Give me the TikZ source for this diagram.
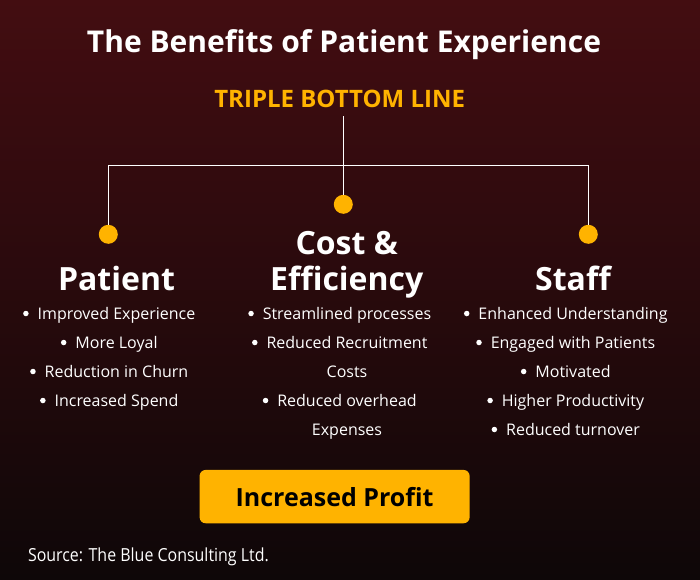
\documentclass[tikz,border=0pt]{standalone}
\usepackage{fontspec}
\setmainfont{Open Sans}
\newfontfamily\condfont[FakeStretch=0.886]{Open Sans}
\definecolor{bgtop}{HTML}{430D11}
\definecolor{bgbot}{HTML}{0E0708}
\definecolor{gold}{HTML}{FFB300}
\begin{document}
\begin{tikzpicture}[x=1pt,y=-1pt,
  every node/.style={inner sep=0pt, outer sep=0pt},
  heading/.style={text=white, font=\fontsize{32}{36}\selectfont\bfseries, anchor=south, text depth=0pt, align=center},
  item/.style={text=white, font=\fontsize{16}{20}\selectfont, text height=11pt, text depth=0pt, anchor=center},
  bul/.style={item, label={[fill=white, circle, inner sep=0pt, minimum size=5.5pt, label distance=9pt]left:{}}},
  dot/.style={circle, fill=gold, minimum size=19pt},
  wire/.style={white, line width=1pt}]
\shade[top color=bgtop, bottom color=bgbot] (0,0) rectangle (700,579);
\useasboundingbox (0,0) rectangle (700,579);

\node[text=white, font=\fontsize{30}{36}\selectfont\bfseries, anchor=base] (title) at (344,52.3) {The Benefits of Patient Experience};
\node[text=gold, font=\fontsize{24}{28}\selectfont\bfseries, anchor=base] (tbl) at (339.7,107.3) {TRIPLE BOTTOM LINE};

\node[dot] (d1) at (108.3,234.3) {};
\node[dot] (d2) at (343.3,204.3) {};
\node[dot] (d3) at (588.3,234.3) {};
\coordinate (stem) at (343.3,116);
\coordinate (jl) at (108.3,165);
\coordinate (jr) at (588.3,165);
\draw[wire] (stem) -- (d2);
\draw[wire] (d1) -- (jl) -- (jr) -- (d3);

\node[heading] (hp) at (116.5,290) {Patient};
\node[heading] (hc) at (346.7,290.7) {Cost \&\\Efficiency};
\node[heading] (hs) at (573,290) {Staff};

\node[bul] (p1) at (116.5,313.5) {Improved Experience};
\node[bul] (p2) at (116.5,342.5) {More Loyal};
\node[bul] (p3) at (116.5,371.5) {Reduction in Churn};
\node[bul] (p4) at (116.5,400.5) {Increased Spend};

\node[bul] (c1) at (347,313.5) {Streamlined processes};
\node[bul] (c2) at (347,342.5) {Reduced Recruitment};
\node[item] (c3) at (347,371.5) {Costs};
\node[bul] (c4) at (347,400.5) {Reduced overhead};
\node[item] (c5) at (347,429.5) {Expenses};

\node[bul] (s1) at (573,313.5) {Enhanced Understanding};
\node[bul] (s2) at (573,342.5) {Engaged with Patients};
\node[bul] (s3) at (573,371.5) {Motivated};
\node[bul] (s4) at (573,400.5) {Higher Productivity};
\node[bul] (s5) at (573,429.5) {Reduced turnover};

\node[fill=gold, rounded corners=6pt, minimum width=270pt, minimum height=53.3pt, text height=20.2pt, text depth=0pt, text=black, font=\fontsize{25}{28}\selectfont\bfseries] (profit) at (334.6,496.6) {Increased Profit};

\node[text=white, font=\condfont\fontsize{18}{22}\selectfont, anchor=base west] (src) at (28,561) {Source: The Blue Consulting Ltd.};
\end{tikzpicture}
\end{document}
